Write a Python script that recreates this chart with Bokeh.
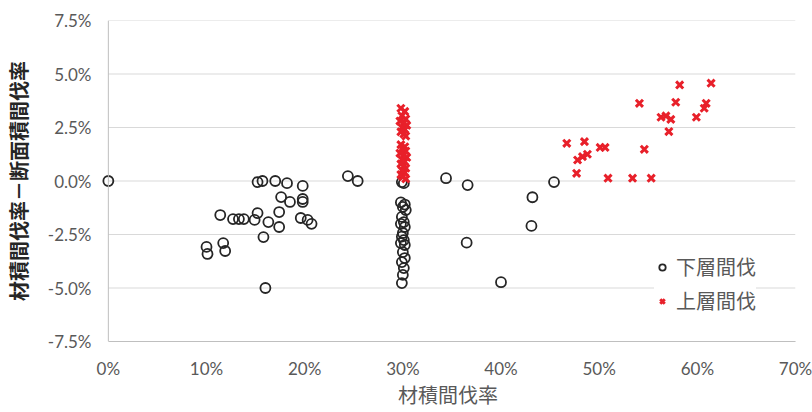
from bokeh.plotting import figure
from bokeh.models import ColumnDataSource, Range1d, FixedTicker, PrintfTickFormatter, Span, Legend, LegendItem
from bokeh.embed import file_html
from bokeh.resources import INLINE

# 下層間伐 (thinning from below)
lower_x = [0.0,
           15.2, 15.7, 17.0, 18.2, 19.8, 17.6, 18.5, 19.8, 19.8, 11.4, 12.7, 13.3, 13.8,
           15.2, 14.9, 16.3, 17.4, 17.4, 19.6, 20.3, 20.7, 15.8, 10.0, 10.1, 11.7, 11.9,
           16.0, 24.4, 25.4,
           34.4, 36.6, 43.2, 43.1, 36.5, 40.0, 45.4,
           29.9, 30.1, 29.8, 30.2, 30.0, 30.3, 29.9, 30.1, 29.8, 30.2, 30.0, 29.9, 30.1,
           29.8, 30.2, 30.0, 30.2, 29.9, 30.1, 30.0, 29.9]
lower_y = [0.0,
           -0.05, 0.0, 0.0, -0.1, -0.23, -0.75, -0.98, -0.84, -0.98, -1.59, -1.78, -1.78, -1.78,
           -1.50, -1.82, -1.92, -1.45, -2.15, -1.73, -1.82, -2.0, -2.62, -3.08, -3.41, -2.90, -3.27,
           -5.0, 0.23, 0.0,
           0.13, -0.19, -0.76, -2.10, -2.88, -4.73, -0.05,
           -0.05, -0.1, -1.0, -1.1, -1.21, -1.36, -1.68, -1.92, -2.0, -2.15, -2.43, -2.6, -2.76,
           -2.9, -2.99, -3.32, -3.6, -3.79, -4.07, -4.39, -4.77]

# 上層間伐 (thinning from above)
upper_x = [46.7, 48.5, 50.1, 50.6, 47.8, 48.3, 48.8, 47.7, 50.9, 53.4, 55.3, 54.6,
           54.1, 57.1, 56.3, 56.8, 57.3, 57.8, 58.2, 61.4, 60.9, 60.7, 59.9,
           29.8, 30.2, 29.9, 30.3, 29.7, 30.1, 30.4, 29.9, 30.2, 29.8, 30.1, 30.3,
           29.8, 30.2, 29.9, 30.3, 29.7, 30.1, 30.4, 29.9, 30.2, 29.8, 30.1, 30.3,
           29.9, 30.2, 29.8, 30.0, 30.3]
upper_y = [1.76, 1.84, 1.57, 1.57, 0.98, 1.14, 1.25, 0.36, 0.13, 0.13, 0.13, 1.48,
           3.63, 2.31, 2.98, 3.04, 2.88, 3.68, 4.49, 4.57, 3.63, 3.4, 2.98,
           3.4, 3.25, 3.05, 2.9, 2.8, 2.7, 2.6, 2.5, 2.4, 2.3, 2.2, 2.1,
           1.7, 1.6, 1.5, 1.4, 1.3, 1.2, 1.1, 1.0, 0.9, 0.8, 0.7, 0.6,
           0.5, 0.4, 0.3, 0.2, 0.1]

x_ticks = [0, 10, 20, 30, 40, 50, 60, 70]
y_ticks = [-7.5, -5.0, -2.5, 0.0, 2.5, 5.0, 7.5]

x_title = "材積間伐率"
y_title = "材積間伐率－断面積間伐率"
lower_name = "下層間伐"
upper_name = "上層間伐"

TICK_FONT = "Lato"
CJK_FONT = "Noto Sans CJK JP"
GRAY = "#595959"

p = figure(width=812, height=412, output_backend="svg", toolbar_location=None,
           x_range=Range1d(-0.8, 70), y_range=Range1d(-7.5, 7.5),
           min_border_left=100, min_border_right=17, min_border_top=20, min_border_bottom=71)
p.outline_line_color = None
p.background_fill_color = "white"

# grid lines (horizontal, from the y tick list)
p.xgrid.visible = False
p.ygrid.visible = False
p.segment(x0=[x_ticks[0]] * len(y_ticks), x1=[x_ticks[-1]] * len(y_ticks), y0=y_ticks, y1=y_ticks,
          line_color="#d9d9d9", line_width=1)

# axes
p.xaxis.ticker = FixedTicker(ticks=x_ticks)
p.yaxis.ticker = FixedTicker(ticks=y_ticks)
p.xaxis.formatter = PrintfTickFormatter(format="%d%%")
p.yaxis.formatter = PrintfTickFormatter(format="%.1f%%")
for ax in (p.xaxis, p.yaxis):
    ax.major_tick_out = 0
    ax.major_tick_in = 0
    ax.minor_tick_out = 0
    ax.minor_tick_in = 0
    ax.major_label_text_font = TICK_FONT
    ax.major_label_text_font_size = "17px"
    ax.major_label_text_color = GRAY
    ax.axis_label_text_font = CJK_FONT
    ax.axis_label_text_font_style = "normal"
p.xaxis.bounds = (x_ticks[0], x_ticks[-1])
p.xaxis.axis_line_color = "#bfbfbf"
p.yaxis.axis_line_color = None
p.xaxis.major_label_standoff = 16
p.yaxis.major_label_standoff = 9
p.xaxis.axis_label = x_title
p.yaxis.axis_label = y_title
p.xaxis.axis_label_text_font_size = "20px"
p.xaxis.axis_label_text_color = GRAY
p.xaxis.axis_label_standoff = -2
p.yaxis.axis_label_text_font_size = "20px"
p.yaxis.axis_label_text_color = "#262626"
p.yaxis.axis_label_text_font_style = "bold"
p.yaxis.axis_label_standoff = 12

p.add_layout(Span(location=x_ticks[0], dimension="height", line_color="#bfbfbf", line_width=1))

src_l = ColumnDataSource(dict(x=lower_x, y=lower_y))
src_u = ColumnDataSource(dict(x=upper_x, y=upper_y))
r_l = p.scatter("x", "y", source=src_l, marker="circle", size=10, fill_color=None,
                line_color="#262626", line_width=1.8)
r_u = p.scatter("x", "y", source=src_u, marker="x", size=10, line_color="#e8202a", line_width=3)

legend = Legend(items=[LegendItem(label=lower_name, renderers=[r_l]),
                       LegendItem(label=upper_name, renderers=[r_u])],
                location=(554, 26), orientation="vertical")
legend.border_line_color = None
legend.background_fill_color = "white"
legend.background_fill_alpha = 1.0
legend.label_text_font = CJK_FONT
legend.label_text_font_size = "20px"
legend.label_text_color = GRAY
legend.glyph_width = 16
legend.glyph_height = 24
legend.label_height = 24
legend.label_standoff = 6
legend.spacing = 5
legend.padding = 5
legend.margin = 0
p.add_layout(legend, "center")

open("out.html", "w").write(file_html(p, INLINE))
